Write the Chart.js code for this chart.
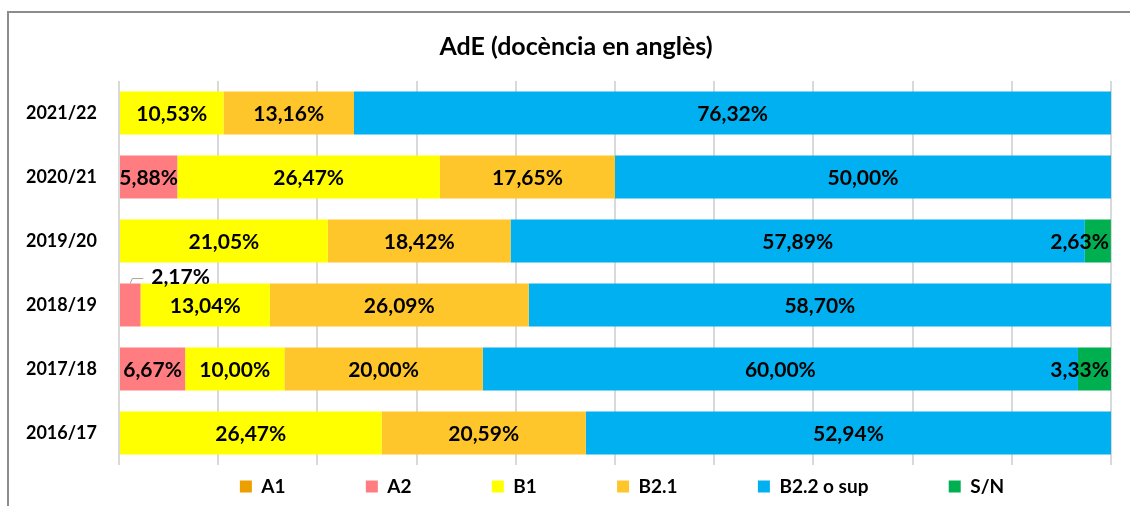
<!DOCTYPE html>
<html>
<head>
<meta charset="utf-8">
<script src="https://cdn.jsdelivr.net/npm/chart.js@4.4.1/dist/chart.umd.min.js"></script>
<style>
  html, body { margin: 0; padding: 0; background: #fff; }
  #wrap { position: relative; width: 1130px; height: 506px; }
  #frame { position: absolute; left: 7px; top: 11px; right: -2px; bottom: -2px;
           border-left: 2px solid #8c8c8c; border-top: 2px solid #8c8c8c; }
  canvas { position: absolute; left: 0; top: 0; }
</style>
</head>
<body>
<div id="wrap">
  <div id="frame"></div>
  <canvas id="chart" width="1130" height="506"></canvas>
</div>
<script>
// categories (top to bottom as in the picture)
var years = ['2021/22', '2020/21', '2019/20', '2018/19', '2017/18', '2016/17'];

// series values in %
var a1    = [0, 0, 0, 0, 0, 0];
var a2    = [0, 5.88, 0, 2.17, 6.67, 0];
var b1    = [10.53, 26.47, 21.05, 13.04, 10.00, 26.47];
var b21   = [13.16, 17.65, 18.42, 26.09, 20.00, 20.59];
var b22   = [76.32, 50.00, 57.89, 58.70, 60.00, 52.94];
var sn    = [0, 0, 2.63, 0, 3.33, 0];

var seriesNames = ['A1', 'A2', 'B1', 'B2.1', 'B2.2 o sup', 'S/N'];
var seriesColors = ['#EE9F00', '#FF7C80', '#FFFF00', '#FFC62C', '#00B0F0', '#00B050'];
var seriesData = [a1, a2, b1, b21, b22, sn];

var FONT = 'Lato, "Liberation Sans", sans-serif';

function fmt(v) {
    return v.toFixed(2).replace('.', ',') + '%';
}

// draws the percentage labels on top of the bars
var labelPlugin = {
    id: 'segLabels',
    beforeDraw: function (chart) {
        // the legend sits a little right of the plot centre in the original
        chart.legend.left = chart.chartArea.left + 7;
        chart.legend.right = chart.chartArea.right + 7;
    },
    afterDatasetsDraw: function (chart) {
        var ctx = chart.ctx;
        ctx.save();
        ctx.font = 'bold 21px ' + FONT;
        ctx.fillStyle = '#000';
        ctx.textBaseline = 'middle';
        var last = chart.data.datasets.length - 1;
        chart.data.datasets.forEach(function (ds, di) {
            var meta = chart.getDatasetMeta(di);
            meta.data.forEach(function (bar, i) {
                var v = ds.data[i];
                if (!v) return;
                var p = bar.getProps(['x', 'y', 'base', 'height'], true);
                var txt = fmt(v);
                var segW = p.x - p.base;
                var mid = (p.x + p.base) / 2;
                if (di === last) {
                    // small last segment: text ends at the bar end
                    ctx.textAlign = 'right';
                    ctx.fillText(txt, p.x - 2, p.y + 1);
                } else if (segW < 30) {
                    // too small: label above the bar with a leader line
                    var top = p.y - p.height / 2;
                    ctx.strokeStyle = '#a6a6a6';
                    ctx.lineWidth = 1;
                    ctx.beginPath();
                    ctx.moveTo(mid, top);
                    ctx.lineTo(mid + 2, top - 5);
                    ctx.lineTo(mid + 13, top - 5);
                    ctx.stroke();
                    ctx.textAlign = 'left';
                    ctx.fillText(txt, mid + 21, top - 6);
                } else {
                    ctx.textAlign = 'center';
                    ctx.fillText(txt, mid, p.y + 1);
                }
            });
        });
        ctx.restore();
    }
};

var datasets = seriesNames.map(function (name, k) {
    return {
        label: name,
        data: seriesData[k],
        backgroundColor: seriesColors[k],
        borderWidth: 0,
        barPercentage: 0.67,
        categoryPercentage: 1.0
    };
});

var ctx = document.getElementById('chart').getContext('2d');
var myChart = new Chart(ctx, {
    type: 'bar',
    data: { labels: years, datasets: datasets },
    options: {
        indexAxis: 'y',
        responsive: false,
        animation: false,
        layout: { padding: { left: 16, right: 19, top: 11, bottom: 0 } },
        scales: {
            x: {
                stacked: true,
                min: 0,
                max: 100,
                ticks: { display: false, stepSize: 10 },
                grid: { color: '#d9d9d9', lineWidth: 2, drawTicks: false },
                border: { display: false },
                afterFit: function (scale) { scale.height = 3; }
            },
            y: {
                stacked: true,
                ticks: { color: '#000', font: { family: FONT, size: 18, weight: 'bold' }, padding: 14 },
                grid: { display: false },
                border: { display: false },
                afterFit: function (scale) { scale.width = 103; }
            }
        },
        plugins: {
            title: {
                display: true,
                // leading spaces push the centred title a bit to the right, like the original
                text: '\u2002\u2002AdE (docència en anglès)',
                color: '#000',
                font: { family: FONT, size: 25, weight: 'bold' },
                padding: { top: 21, bottom: 19 }
            },
            legend: {
                position: 'bottom',
                fullSize: false,
                labels: {
                    color: '#000',
                    font: { family: FONT, size: 19, weight: 'bold' },
                    boxWidth: 12,
                    boxHeight: 12,
                    padding: 9,
                    generateLabels: function (chart) {
                        var items = Chart.defaults.plugins.legend.labels.generateLabels(chart);
                        var c = chart.ctx;
                        c.save();
                        c.font = 'bold 19px ' + FONT;
                        var sp = c.measureText('\u2009').width;
                        c.restore();
                        var extra = Math.round(72 / sp);
                        items.forEach(function (it, i) {
                            it.lineWidth = 0;
                            if (i < items.length - 1) it.text = it.text + '\u2009'.repeat(extra);
                        });
                        return items;
                    }
                }
            },
            tooltip: { enabled: false }
        }
    },
    plugins: [labelPlugin]
});
</script>
</body>
</html>
